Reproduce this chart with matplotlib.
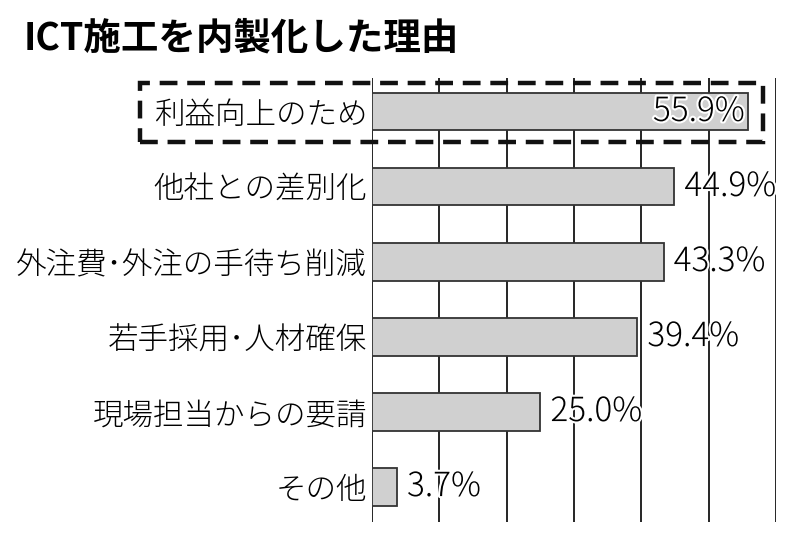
import matplotlib
matplotlib.use("Agg")
import matplotlib.pyplot as plt
import matplotlib.patheffects as pe
from matplotlib.patches import Rectangle

plt.rcParams['font.family'] = ['Noto Sans CJK JP', 'DejaVu Sans']

# data (narrow middle dot as in the original typesetting)
reasons = ["利益向上のため", "他社との差別化", "外注費･外注の手待ち削減",
           "若手採用･人材確保", "現場担当からの要請", "その他"]
shares = [55.9, 44.9, 43.3, 39.4, 25.0, 3.7]
title = "ICT施工を内製化した理由"

fig = plt.figure(figsize=(8, 5.49), dpi=100)
ax = fig.add_axes([0.465, 0.049, 0.505, 0.809])

ypos = list(range(len(reasons)))
ax.barh(ypos, shares, height=0.5, color="#d0d0d0", edgecolor="#333333",
        linewidth=1.3, zorder=3)

ax.set_xlim(0, 60)
ax.set_ylim(5.47, -0.45)
ax.set_xticks(range(0, 61, 10))
ax.grid(axis="x", color="black", linewidth=1.2, zorder=1)
ax.tick_params(axis="x", length=0, labelbottom=False)
ax.set_yticks(ypos)
ax.set_yticklabels(reasons, fontsize=22, fontweight="light")
ax.tick_params(axis="y", length=0, pad=3.5)
for s in ax.spines.values():
    s.set_visible(False)

halo = [pe.withStroke(linewidth=3, foreground="white")]
for i, v in enumerate(shares):
    lab = f"{v:.1f}%"
    if i == 0:
        ax.text(v - 0.6, i, lab, ha="right", va="center", fontsize=24,
                fontweight="light", path_effects=halo, zorder=5)
    else:
        ax.text(v + 1.5, i, lab, ha="left", va="center", fontsize=24,
                fontweight="light", path_effects=halo, zorder=5)

# dashed highlight round the top row
box = Rectangle((140 / 800, 1 - 142 / 549), (763 - 140) / 800, (142 - 83) / 549,
                transform=fig.transFigure, fill=False, edgecolor="#111111",
                linewidth=3.2, linestyle=(0, (4, 2.2)), zorder=10)
fig.patches.append(box)

fig.text(24 / 800, 1 - 38 / 549, title, fontsize=27, fontweight="bold",
         ha="left", va="center")

fig.savefig("out.png", dpi=100)
